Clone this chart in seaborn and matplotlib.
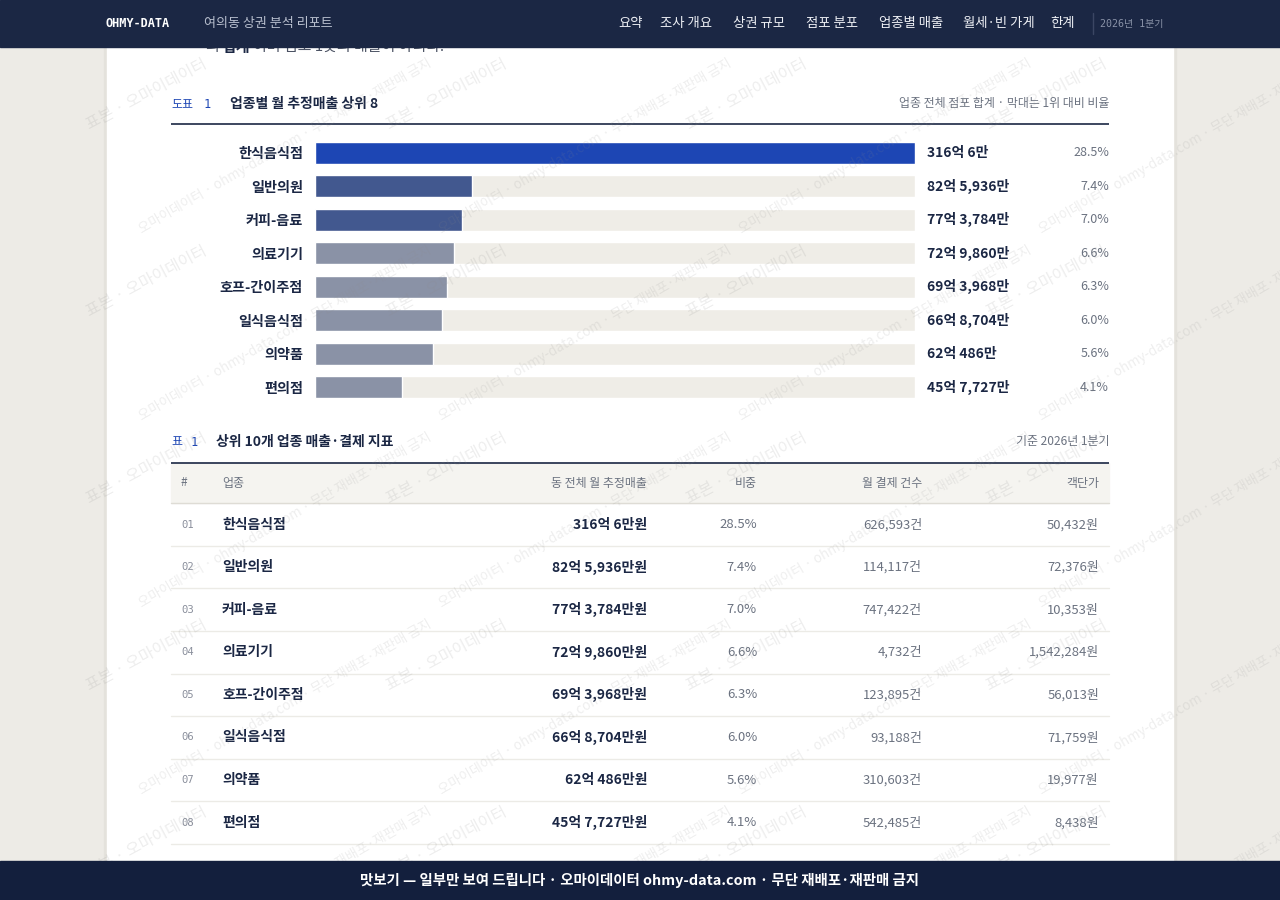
import numpy as np
import pandas as pd
import matplotlib
matplotlib.use("Agg")
import matplotlib.pyplot as plt
from matplotlib.patches import Rectangle
import seaborn as sns

# ---------------- data ----------------
categories = ["한식음식점", "일반의원", "커피-음료", "의료기기", "호프-간이주점", "일식음식점", "의약품", "편의점"]
sales_eok = [316.0006, 82.5936, 77.3784, 72.9860, 69.3968, 66.8704, 62.0486, 45.7727]
sales_labels = ["316억 6만", "82억 5,936만", "77억 3,784만", "72억 9,860만", "69억 3,968만", "66억 8,704만", "62억 486만", "45억 7,727만"]
share_labels = ["28.5%", "7.4%", "7.0%", "6.6%", "6.3%", "6.0%", "5.6%", "4.1%"]

table_ranks = ["01", "02", "03", "04", "05", "06", "07", "08"]
table_names = categories
table_sales = ["316억 6만원", "82억 5,936만원", "77억 3,784만원", "72억 9,860만원", "69억 3,968만원", "66억 8,704만원", "62억 486만원", "45억 7,727만원"]
table_share = share_labels
table_counts = ["626,593건", "114,117건", "747,422건", "4,732건", "123,895건", "93,188건", "310,603건", "542,485건"]
table_price = ["50,432원", "72,376원", "10,353원", "1,542,284원", "56,013원", "71,759원", "19,977원", "8,438원"]
table_headers = ["#", "업종", "동 전체 월 추정매출", "비중", "월 결제 건수", "객단가"]

nav_items = ["요약", "조사 개요", "상권 규모", "점포 분포", "업종별 매출", "월세·빈 가게", "한계"]

# ---------------- style ----------------
sns.set_theme(style="white")
KR = ["Noto Sans CJK KR", "DejaVu Sans"]
MONO = ["DejaVu Sans Mono", "Noto Sans CJK KR"]
plt.rcParams["font.family"] = KR

NAVY = "#1b2744"
GRAY = "#6b7280"
BLUE = "#1d46b4"
TRACK = "#efede7"
bar_colors = ["#1d46b4", "#42588f", "#42588f", "#8a92a6", "#8a92a6", "#8a92a6", "#8a92a6", "#8a92a6"]

W, H = 1280, 900
fig = plt.figure(figsize=(12.8, 9), dpi=100)
fig.patch.set_facecolor("#edebe6")

def px_axes(z):
    a = fig.add_axes([0, 0, 1, 1])
    a.set_xlim(0, W)
    a.set_ylim(H, 0)
    a.axis("off")
    a.set_zorder(z)
    a.patch.set_alpha(0)
    return a

# background + card + table
ax = px_axes(0)
ax.add_patch(Rectangle((0, 0), W, H, color="#edebe6", zorder=0))
ax.add_patch(Rectangle((104, 0), 3, H, color="#e4e2dc", zorder=0.5))
ax.add_patch(Rectangle((1173, 0), 3, H, color="#e4e2dc", zorder=0.5))
ax.add_patch(Rectangle((107, 0), 1066, H, color="white", zorder=1))

# clipped intro line
ax.text(205, 47, "의", fontsize=10.8, color="#4b5263", va="center", ha="left", zorder=2)
ax.text(222, 47, "합계", fontsize=10.8, color=NAVY, fontweight="bold", va="center", ha="left", zorder=2)
ax.text(253, 47, "이며 점포 1곳의 매출이 아니다.", fontsize=10.8, color="#4b5263", va="center", ha="left", zorder=2)

# chart title
ax.text(171, 104, "도표", fontsize=8.6, color=BLUE, va="center", ha="left", zorder=2)
ax.text(204, 104, "1", fontsize=8.6, color=BLUE, va="center", ha="left", family=MONO, zorder=2)
ax.text(230, 104, "업종별 월 추정매출 상위 8", fontsize=10, color=NAVY, fontweight="bold", va="center", ha="left", zorder=2)
ax.text(1109, 104, "업종 전체 점포 합계 · 막대는 1위 대비 비율", fontsize=8.6, color=GRAY, va="center", ha="right", zorder=2)
ax.plot([171, 1109], [124, 124], color=NAVY, lw=1.2, zorder=2, solid_capstyle="butt")

# table title
ax.text(171, 442, "표", fontsize=8.6, color=BLUE, va="center", ha="left", zorder=2)
ax.text(191, 442, "1", fontsize=8.6, color=BLUE, va="center", ha="left", family=MONO, zorder=2)
ax.text(216, 442, "상위 10개 업종 매출·결제 지표", fontsize=10, color=NAVY, fontweight="bold", va="center", ha="left", zorder=2)
ax.text(1109, 442, "기준 2026년 1분기", fontsize=8.6, color=GRAY, va="center", ha="right", zorder=2)
ax.plot([171, 1109], [462.5, 462.5], color=NAVY, lw=1.2, zorder=3, solid_capstyle="butt")

# table header row
ax.add_patch(Rectangle((171, 463), 938, 40, color="#f5f4f0", zorder=2))
ax.plot([171, 1109], [503, 503], color="#dedcd5", lw=1, zorder=3)
col_x = [181, 222, 647, 757, 922, 1099]
col_ha = ["left", "left", "right", "right", "right", "right"]
for t, x, ha in zip(table_headers, col_x, col_ha):
    ax.text(x, 483, t, fontsize=8.6, color=GRAY, va="center", ha=ha, zorder=3)

row_h = 42.6
for i in range(len(table_ranks)):
    yc = 524.5 + i * row_h
    ax.text(181, yc, table_ranks[i], fontsize=7.6, color="#8a8f9c", va="center", ha="left", family=MONO, zorder=3)
    ax.text(222, yc, table_names[i], fontsize=10, color=NAVY, fontweight="bold", va="center", ha="left", zorder=3)
    ax.text(647, yc, table_sales[i], fontsize=10, color=NAVY, fontweight="bold", va="center", ha="right", zorder=3)
    ax.text(757, yc, table_share[i], fontsize=9.4, color=GRAY, va="center", ha="right", zorder=3)
    ax.text(922, yc, table_counts[i], fontsize=9.4, color=GRAY, va="center", ha="right", zorder=3)
    ax.text(1099, yc, table_price[i], fontsize=9.4, color=GRAY, va="center", ha="right", zorder=3)
    ax.plot([171, 1109], [yc + row_h / 2, yc + row_h / 2], color="#ecebe6", lw=1, zorder=3)

# ---------------- bar chart (seaborn) ----------------
top, bot = 136.25, 403.75
bax = fig.add_axes([315 / W, 1 - bot / H, 600 / W, (bot - top) / H])
bax.set_zorder(1)
bax.patch.set_alpha(0)
df = pd.DataFrame({"cat": categories, "val": sales_eok, "track": [max(sales_eok)] * len(categories)})
sns.barplot(data=df, x="track", y="cat", color=TRACK, width=0.66, ax=bax, saturation=1, zorder=1)
sns.barplot(data=df, x="val", y="cat", hue="cat", palette=bar_colors, width=0.66, ax=bax,
            saturation=1, legend=False, zorder=2)
bax.set_xlim(0, max(sales_eok))
bax.set_ylim(len(categories) - 0.5, -0.5)
bax.set_xlabel("")
bax.set_ylabel("")
bax.set_xticks([])
for s in bax.spines.values():
    s.set_visible(False)
bax.tick_params(axis="y", length=0, pad=8.6)
for lab in bax.get_yticklabels():
    lab.set_fontsize(10.2)
    lab.set_fontweight("bold")
    lab.set_color(NAVY)
vmax = max(sales_eok)
for i, (sl, sh) in enumerate(zip(sales_labels, share_labels)):
    bax.annotate(sl, xy=(vmax, i), xytext=(8.6, 0), textcoords="offset points",
                 fontsize=10, fontweight="bold", color=NAVY, va="center", ha="left", annotation_clip=False)
    bax.annotate(sh, xy=(vmax, i), xytext=(139.7, 0), textcoords="offset points",
                 fontsize=9, color=GRAY, va="center", ha="right", annotation_clip=False)

# ---------------- watermark ----------------
wax = px_axes(5)
for j in range(0, 5):
    for i in range(0, 4):
        bx, by = 147 + 300 * i, 95 + 187 * j
        wax.text(bx, by, "표본 · 오마이데이터", fontsize=11.5, color="#8a8a8a", alpha=0.15,
                 rotation=28, ha="center", va="center", rotation_mode="anchor")
        lx, ly = 285 + 300 * i, 146 + 187 * j
        wax.text(lx, ly, "오마이데이터 · ohmy-data.com · 무단 재배포·재판매 금지", fontsize=9.6,
                 color="#8a8a8a", alpha=0.14, rotation=30, ha="center", va="center", rotation_mode="anchor")

# ---------------- header & footer ----------------
hax = px_axes(10)
hax.add_patch(Rectangle((0, 0), W, 47, color="#1b2744", zorder=1))
hax.text(105, 23.5, "OHMY-DATA", fontsize=8.6, color="white", fontweight="bold", family=MONO,
         va="center", ha="left", zorder=2)
hax.text(204, 23.5, "여의동 상권 분석 리포트", fontsize=9.4, color="#b9c0cf", va="center", ha="left", zorder=2)
nav_x = [618, 660, 733, 806, 879, 963, 1050]
for t, x in zip(nav_items, nav_x):
    hax.text(x, 23.5, t, fontsize=9.6, color="#eef0f5", va="center", ha="left", zorder=2)
hax.plot([1093, 1093], [13, 34], color="#3b4663", lw=1, zorder=2)
yr = hax.text(1100, 24, "2026년 1분기", fontsize=7.2, color="#8a93a8", va="center", ha="left", family=MONO, zorder=2)
clip = Rectangle((1095, 0), 77, 47, transform=hax.transData)
yr.set_clip_path(clip)

hax.add_patch(Rectangle((0, 861), W, 39, color="#131f3d", zorder=1))
hax.text(640, 880.5, "맛보기 — 일부만 보여 드립니다 · 오마이데이터 ohmy-data.com · 무단 재배포·재판매 금지",
         fontsize=10.4, color="white", fontweight="bold", va="center", ha="center", zorder=2)

fig.savefig("out.png", dpi=100, facecolor=fig.get_facecolor())
